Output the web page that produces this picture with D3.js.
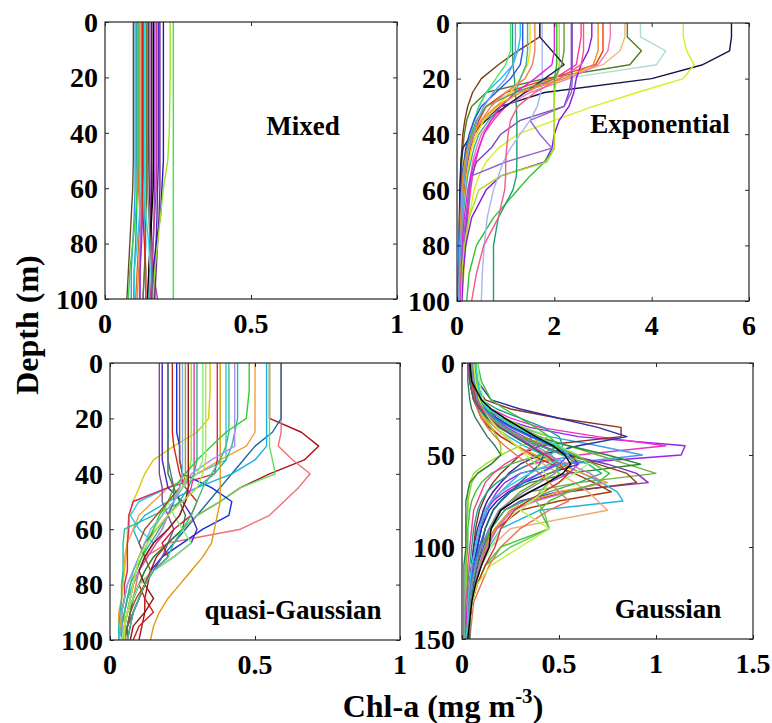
<!DOCTYPE html>
<html><head><meta charset="utf-8">
<script src="https://cdn.jsdelivr.net/npm/d3@7"></script>
<style>
body{margin:0;background:#fff;}
svg{display:block;}
text{font-family:"Liberation Serif","Times New Roman",serif;font-weight:bold;fill:#000;}
</style></head>
<body><svg id="chart" width="772" height="723"></svg>
<script>
// ---------- DATA ----------
const panelNames = ["Mixed", "Exponential", "quasi-Gaussian", "Gaussian"];
const xTicksMixed = [0, 0.5, 1];
const xTicksExp = [0, 2, 4, 6];
const xTicksQuasi = [0, 0.5, 1];
const xTicksGauss = [0, 0.5, 1, 1.5];
const yTicks100 = [0, 20, 40, 60, 80, 100];
const yTicks150 = [0, 50, 100, 150];

// Mixed
const depthMixed = [0, 20, 40, 50, 60, 70, 80, 90, 100];
const mixedProfiles = [
 [0.097,0.097,0.097,0.097,0.095,0.090,0.085,0.080,0.075],
 [0.103,0.103,0.103,0.103,0.103,0.100,0.095,0.090,0.090],
 [0.109,0.109,0.109,0.109,0.110,0.108,0.105,0.100,0.098],
 [0.114,0.114,0.114,0.114,0.115,0.120,0.115,0.110,0.105],
 [0.120,0.120,0.120,0.120,0.118,0.125,0.120,0.115,0.110],
 [0.126,0.126,0.126,0.126,0.126,0.124,0.122,0.120,0.118],
 [0.132,0.132,0.132,0.132,0.130,0.128,0.125,0.120,0.120],
 [0.137,0.137,0.137,0.137,0.137,0.135,0.140,0.135,0.130],
 [0.143,0.143,0.143,0.143,0.143,0.140,0.138,0.135,0.130],
 [0.149,0.149,0.149,0.150,0.152,0.155,0.160,0.165,0.170],
 [0.154,0.154,0.154,0.154,0.155,0.158,0.160,0.165,0.180],
 [0.160,0.160,0.160,0.160,0.160,0.158,0.155,0.150,0.150],
 [0.166,0.166,0.166,0.166,0.165,0.160,0.155,0.150,0.145],
 [0.171,0.171,0.171,0.171,0.170,0.168,0.165,0.160,0.160],
 [0.177,0.177,0.177,0.177,0.175,0.170,0.165,0.160,0.155],
 [0.183,0.183,0.183,0.183,0.180,0.178,0.175,0.170,0.165],
 [0.188,0.188,0.188,0.188,0.188,0.185,0.180,0.175,0.170],
 [0.200,0.200,0.200,0.200,0.195,0.190,0.175,0.165,0.160],
 [0.223,0.223,0.220,0.215,0.200,0.190,0.180,0.170,0.165],
 [0.234,0.234,0.234,0.234,0.234,0.234,0.234,0.234,0.234],
 [0.113,0.113,0.113,0.113,0.110,0.105,0.095,0.085,0.080],
 [0.118,0.118,0.118,0.118,0.120,0.118,0.110,0.100,0.100],
 [0.135,0.135,0.135,0.135,0.135,0.140,0.150,0.155,0.150],
 [0.146,0.146,0.146,0.146,0.146,0.150,0.155,0.160,0.162],
 [0.128,0.128,0.128,0.128,0.128,0.130,0.135,0.140,0.140]
];
const mixedColors = ["#6b4a2a","#2f9fd8","#18a0a0","#e07020","#f08a30","#c060e0","#8b2be2","#40b0b0","#707020","#303030",
 "#b040c0","#2a2a2a","#000000","#a040e0","#c04090","#5020c0","#603080","#3010c0","#a0e020","#30f030",
 "#40d040","#20d0f0","#20e0f0","#808080","#e02020"];

// Exponential
const depthExp = [0,5,10,15,20,25,30,35,40,45,50,55,60,70,80,90,100];
const expProfiles = [
 [5.64,5.64,5.60,5.05,4.00,1.80,0.90,0.55,0.35,0.25,0.18,0.14,0.12,0.09,0.07,0.06,0.05],
 [4.65,4.65,4.72,4.87,4.65,3.70,2.80,2.00,1.25,0.85,0.60,0.45,0.35,0.25,0.18,0.14,0.10],
 [3.77,3.77,4.29,4.10,2.20,1.10,0.60,0.40,0.30,0.22,0.18,0.15,0.12,0.10,0.08,0.06,0.05],
 [3.50,3.50,3.79,3.55,1.80,0.60,0.30,0.20,0.15,0.12,0.10,0.09,0.08,0.07,0.06,0.05,0.05],
 [3.45,3.45,3.35,3.00,2.10,1.30,0.85,0.55,0.40,0.30,0.22,0.18,0.15,0.12,0.10,0.08,0.07],
 [3.00,3.00,3.00,2.85,1.90,1.00,0.60,0.45,0.35,0.28,0.22,0.18,0.15,0.12,0.10,0.08,0.06],
 [3.15,3.15,3.10,2.90,2.30,1.50,1.00,0.70,0.50,0.40,0.32,0.28,0.25,0.20,0.15,0.12,0.10],
 [2.55,2.55,2.50,2.45,2.00,1.40,1.00,0.75,0.55,0.45,0.38,0.32,0.28,0.22,0.17,0.13,0.10],
 [2.77,2.77,2.70,2.55,2.45,2.40,2.30,2.10,2.00,1.95,1.80,0.90,0.60,0.30,0.18,0.12,0.10],
 [2.35,2.35,2.35,2.35,2.35,2.30,2.20,1.30,0.90,0.70,0.40,0.30,0.25,0.20,0.15,0.10,0.08],
 [2.37,2.37,2.37,2.37,2.37,2.35,2.20,1.50,1.70,1.95,1.00,0.30,0.25,0.18,0.12,0.10,0.08],
 [2.05,2.05,2.05,2.05,2.00,2.00,2.00,2.00,2.00,2.00,1.80,1.50,1.25,0.75,0.40,0.25,0.20],
 [2.10,2.10,2.10,2.10,2.05,2.00,2.00,2.00,2.00,2.00,1.85,0.90,0.45,0.25,0.15,0.10,0.08],
 [1.14,1.14,1.14,1.15,1.18,1.20,1.22,1.23,1.23,1.23,1.23,1.22,1.15,0.85,0.75,0.75,0.75],
 [1.75,1.75,1.75,1.75,1.75,1.72,1.65,1.50,1.30,1.10,0.95,0.85,0.75,0.62,0.56,0.52,0.50],
 [2.60,2.60,2.60,2.55,2.10,1.60,1.25,1.10,1.05,1.02,1.00,1.00,0.98,0.85,0.55,0.40,0.30],
 [1.70,1.70,1.25,0.85,0.50,0.32,0.22,0.16,0.12,0.10,0.08,0.07,0.06,0.05,0.04,0.03,0.03],
 [1.70,1.70,1.95,2.20,1.80,1.40,1.00,0.60,0.30,0.12,0.08,0.07,0.06,0.05,0.04,0.03,0.03],
 [1.30,1.30,1.25,1.15,0.90,0.60,0.45,0.35,0.28,0.22,0.18,0.14,0.10,0.06,0.04,0.03,0.02],
 [1.50,1.50,1.50,1.45,1.30,1.10,0.80,0.55,0.40,0.30,0.25,0.20,0.17,0.12,0.08,0.05,0.04],
 [1.10,1.10,1.10,1.00,0.80,0.60,0.45,0.35,0.28,0.22,0.18,0.15,0.12,0.10,0.08,0.06,0.05],
 [1.45,1.45,1.45,1.42,1.30,1.20,0.90,0.65,0.45,0.35,0.28,0.22,0.18,0.12,0.08,0.06,0.05],
 [2.00,2.00,2.00,1.95,1.60,1.20,0.90,0.70,0.55,0.45,0.35,0.28,0.22,0.15,0.10,0.08,0.06],
 [2.20,2.20,2.20,2.15,2.00,1.20,0.60,0.40,0.30,0.20,0.15,0.12,0.10,0.08,0.06,0.05,0.04],
 [1.60,1.60,1.60,1.55,1.40,1.00,0.70,0.50,0.35,0.25,0.20,0.15,0.12,0.10,0.08,0.06,0.05],
 [1.35,1.35,1.35,1.30,1.10,0.80,0.50,0.35,0.25,0.18,0.14,0.10,0.08,0.06,0.05,0.04,0.03],
 [2.90,2.90,2.90,2.80,2.20,1.30,0.80,0.50,0.32,0.22,0.16,0.12,0.10,0.08,0.06,0.05,0.04],
 [1.20,1.20,1.20,1.15,1.00,0.75,0.55,0.42,0.32,0.25,0.20,0.16,0.13,0.10,0.07,0.05,0.03]
];
const expColors = ["#14144a","#d8ee20","#b0ddd0","#4f7f22","#f0b878","#e8400c","#f07ab0","#ff3c9c","#8a14e8","#7a40c8",
 "#9060d0","#30c030","#a8e020","#20a070","#a8b4f4","#f25a8a","#7a3c0c","#20205a","#20c0f0","#f0e000",
 "#50e070","#40b0a0","#e020e0","#6a9a40","#f08060","#3050e0","#f09020","#60a0f0"];

// quasi-Gaussian
const depthQuasi = [0,10,20,25,30,35,40,45,50,55,60,65,70,75,80,85,90,95,100];
const quasiProfiles = [
 [0.55,0.55,0.55,0.66,0.72,0.67,0.55,0.45,0.38,0.30,0.25,0.20,0.16,0.14,0.13,0.12,0.12,0.11,0.10],
 [0.59,0.59,0.59,0.59,0.58,0.63,0.69,0.65,0.60,0.55,0.45,0.20,0.12,0.10,0.09,0.08,0.07,0.06,0.05],
 [0.59,0.59,0.59,0.56,0.50,0.46,0.42,0.38,0.34,0.30,0.26,0.22,0.18,0.15,0.12,0.10,0.08,0.06,0.05],
 [0.54,0.54,0.54,0.54,0.54,0.50,0.42,0.30,0.20,0.12,0.08,0.10,0.12,0.10,0.08,0.06,0.05,0.04,0.03],
 [0.40,0.40,0.40,0.40,0.40,0.40,0.30,0.20,0.10,0.07,0.10,0.15,0.12,0.10,0.08,0.06,0.05,0.04,0.04],
 [0.55,0.55,0.55,0.55,0.55,0.56,0.57,0.45,0.38,0.30,0.25,0.20,0.15,0.12,0.10,0.08,0.07,0.06,0.05],
 [0.50,0.50,0.50,0.50,0.47,0.38,0.30,0.20,0.15,0.10,0.08,0.06,0.05,0.05,0.04,0.04,0.03,0.03,0.03],
 [0.345,0.345,0.34,0.30,0.22,0.15,0.12,0.10,0.08,0.065,0.06,0.06,0.055,0.05,0.045,0.04,0.04,0.035,0.03],
 [0.23,0.23,0.23,0.23,0.24,0.24,0.25,0.35,0.42,0.41,0.32,0.25,0.18,0.14,0.12,0.10,0.08,0.07,0.06],
 [0.37,0.37,0.37,0.37,0.37,0.37,0.36,0.20,0.08,0.065,0.065,0.06,0.06,0.06,0.05,0.05,0.04,0.04,0.04],
 [0.44,0.44,0.44,0.43,0.42,0.40,0.36,0.30,0.25,0.15,0.05,0.045,0.045,0.045,0.04,0.04,0.035,0.03,0.03],
 [0.38,0.38,0.38,0.38,0.38,0.38,0.38,0.38,0.38,0.37,0.36,0.35,0.32,0.28,0.24,0.20,0.17,0.15,0.14],
 [0.17,0.17,0.17,0.17,0.17,0.17,0.17,0.18,0.18,0.20,0.22,0.20,0.18,0.15,0.12,0.10,0.08,0.06,0.05],
 [0.18,0.18,0.18,0.18,0.18,0.18,0.19,0.20,0.25,0.28,0.30,0.28,0.22,0.15,0.10,0.08,0.06,0.05,0.05],
 [0.20,0.20,0.20,0.20,0.20,0.20,0.20,0.22,0.24,0.26,0.25,0.20,0.15,0.12,0.10,0.08,0.07,0.06,0.05],
 [0.215,0.215,0.215,0.215,0.22,0.23,0.24,0.26,0.30,0.28,0.22,0.18,0.20,0.15,0.10,0.12,0.15,0.10,0.08],
 [0.26,0.26,0.26,0.26,0.26,0.26,0.26,0.25,0.22,0.20,0.18,0.15,0.12,0.10,0.08,0.07,0.06,0.05,0.05],
 [0.28,0.28,0.28,0.28,0.28,0.28,0.27,0.25,0.20,0.18,0.15,0.12,0.10,0.08,0.07,0.06,0.05,0.05,0.04],
 [0.29,0.29,0.29,0.29,0.29,0.29,0.29,0.28,0.26,0.24,0.20,0.16,0.13,0.10,0.08,0.07,0.06,0.05,0.05],
 [0.30,0.30,0.30,0.30,0.30,0.30,0.29,0.27,0.24,0.20,0.17,0.14,0.11,0.09,0.07,0.06,0.05,0.04,0.04],
 [0.43,0.43,0.43,0.43,0.43,0.35,0.28,0.25,0.22,0.20,0.18,0.15,0.12,0.10,0.08,0.07,0.06,0.05,0.05],
 [0.48,0.48,0.47,0.40,0.35,0.30,0.26,0.22,0.20,0.17,0.15,0.13,0.11,0.09,0.08,0.07,0.06,0.05,0.05],
 [0.32,0.32,0.32,0.32,0.32,0.32,0.30,0.25,0.20,0.22,0.25,0.28,0.22,0.15,0.10,0.08,0.06,0.05,0.04],
 [0.24,0.24,0.24,0.24,0.24,0.24,0.25,0.24,0.20,0.16,0.12,0.10,0.12,0.14,0.12,0.09,0.07,0.06,0.06],
 [0.27,0.27,0.27,0.27,0.27,0.27,0.27,0.27,0.26,0.24,0.20,0.15,0.12,0.10,0.12,0.15,0.12,0.08,0.07],
 [0.20,0.20,0.20,0.20,0.20,0.20,0.21,0.22,0.22,0.20,0.16,0.12,0.10,0.08,0.06,0.05,0.04,0.04,0.03],
 [0.41,0.41,0.41,0.41,0.40,0.38,0.35,0.32,0.30,0.28,0.25,0.22,0.20,0.15,0.12,0.10,0.08,0.07,0.06],
 [0.25,0.25,0.25,0.25,0.25,0.25,0.25,0.24,0.22,0.18,0.14,0.12,0.10,0.08,0.06,0.05,0.04,0.04,0.03],
 [0.33,0.33,0.33,0.33,0.33,0.33,0.32,0.30,0.25,0.20,0.16,0.13,0.10,0.09,0.08,0.07,0.06,0.05,0.05]
];
const quasiColors = ["#b01010","#f07070","#1a6aa8","#18b0e0","#30c8e8","#60e060","#f0a040","#e0c800","#1030e0","#e0205a",
 "#20c0a0","#e09a10","#7a4aa0","#5020c0","#208040","#d02020","#a0a030","#90e030","#e040a0","#30b090",
 "#b090f0","#30d030","#80f080","#a05020","#901818","#607080","#40c080","#80b0f0","#c0e040"];

// Gaussian
const depthGauss = [0,10,20,25,30,35,40,45,50,55,60,65,70,75,80,90,100,110,120,130,140,150];
const gaussProfiles = [
 [0.05,0.05,0.08,0.12,0.20,0.35,0.60,1.15,1.13,0.50,0.30,0.22,0.18,0.15,0.12,0.10,0.08,0.06,0.05,0.04,0.03,0.03],
 [0.04,0.05,0.09,0.15,0.25,0.40,0.70,1.05,0.60,0.35,0.25,0.20,0.16,0.13,0.11,0.09,0.07,0.05,0.04,0.03,0.03,0.02],
 [0.06,0.07,0.10,0.15,0.22,0.30,0.45,0.70,0.93,0.50,0.30,0.25,0.20,0.16,0.13,0.10,0.08,0.06,0.05,0.04,0.03,0.03],
 [0.05,0.06,0.12,0.25,0.50,0.82,0.82,0.40,0.30,0.25,0.20,0.16,0.13,0.11,0.09,0.07,0.06,0.05,0.04,0.03,0.03,0.02],
 [0.06,0.08,0.15,0.30,0.50,0.70,0.85,0.60,0.40,0.30,0.24,0.20,0.16,0.13,0.11,0.08,0.06,0.05,0.04,0.03,0.03,0.02],
 [0.07,0.08,0.10,0.14,0.20,0.30,0.40,0.55,0.70,0.85,1.00,0.60,0.35,0.25,0.20,0.15,0.12,0.10,0.07,0.05,0.04,0.03],
 [0.05,0.06,0.08,0.10,0.14,0.20,0.28,0.40,0.55,0.75,0.90,0.96,0.50,0.30,0.22,0.15,0.11,0.08,0.06,0.05,0.04,0.03],
 [0.06,0.07,0.09,0.12,0.18,0.26,0.38,0.55,0.75,0.92,0.55,0.35,0.25,0.20,0.16,0.12,0.09,0.07,0.05,0.04,0.03,0.03],
 [0.04,0.05,0.07,0.10,0.14,0.20,0.30,0.40,0.55,0.70,0.85,0.90,0.55,0.35,0.25,0.17,0.12,0.09,0.07,0.05,0.04,0.03],
 [0.05,0.05,0.07,0.09,0.12,0.17,0.24,0.32,0.42,0.52,0.62,0.72,0.80,0.83,0.40,0.20,0.14,0.10,0.07,0.05,0.04,0.03],
 [0.03,0.04,0.06,0.08,0.11,0.15,0.20,0.28,0.38,0.50,0.62,0.75,0.50,0.35,0.25,0.17,0.12,0.09,0.07,0.05,0.04,0.03],
 [0.04,0.04,0.06,0.08,0.10,0.14,0.20,0.28,0.36,0.46,0.58,0.68,0.77,0.50,0.30,0.18,0.13,0.10,0.07,0.05,0.04,0.03],
 [0.06,0.07,0.10,0.15,0.22,0.32,0.45,0.30,0.20,0.12,0.06,0.04,0.03,0.03,0.03,0.02,0.02,0.02,0.02,0.02,0.02,0.02],
 [0.08,0.10,0.15,0.22,0.30,0.38,0.45,0.50,0.40,0.25,0.15,0.10,0.07,0.05,0.04,0.03,0.03,0.02,0.02,0.02,0.02,0.02],
 [0.05,0.06,0.08,0.10,0.12,0.15,0.18,0.20,0.20,0.15,0.08,0.05,0.04,0.03,0.03,0.02,0.02,0.02,0.02,0.02,0.02,0.02],
 [0.05,0.06,0.10,0.18,0.30,0.42,0.50,0.52,0.45,0.35,0.25,0.18,0.13,0.10,0.08,0.06,0.05,0.04,0.03,0.03,0.02,0.02],
 [0.03,0.04,0.06,0.10,0.16,0.25,0.35,0.37,0.30,0.22,0.16,0.12,0.10,0.08,0.06,0.05,0.04,0.03,0.03,0.02,0.02,0.02],
 [0.04,0.05,0.08,0.12,0.18,0.26,0.36,0.46,0.56,0.60,0.45,0.32,0.24,0.18,0.14,0.10,0.08,0.06,0.05,0.04,0.03,0.03],
 [0.05,0.06,0.08,0.10,0.13,0.17,0.22,0.28,0.35,0.42,0.50,0.58,0.65,0.70,0.75,0.25,0.15,0.10,0.07,0.05,0.04,0.03],
 [0.07,0.08,0.10,0.13,0.17,0.22,0.28,0.35,0.42,0.48,0.50,0.45,0.40,0.38,0.42,0.45,0.25,0.12,0.08,0.05,0.04,0.03],
 [0.05,0.06,0.08,0.11,0.16,0.23,0.32,0.42,0.52,0.60,0.55,0.45,0.35,0.27,0.20,0.14,0.10,0.07,0.05,0.04,0.03,0.03],
 [0.03,0.04,0.06,0.09,0.14,0.20,0.28,0.36,0.44,0.48,0.40,0.30,0.22,0.16,0.12,0.09,0.07,0.05,0.04,0.03,0.02,0.02],
 [0.06,0.07,0.09,0.12,0.16,0.22,0.30,0.40,0.52,0.65,0.72,0.60,0.45,0.32,0.22,0.15,0.10,0.07,0.05,0.04,0.03,0.03],
 [0.05,0.06,0.08,0.11,0.15,0.21,0.30,0.45,0.60,0.55,0.45,0.38,0.30,0.25,0.20,0.15,0.12,0.09,0.07,0.05,0.04,0.03],
 [0.08,0.09,0.11,0.15,0.20,0.28,0.38,0.50,0.60,0.65,0.58,0.50,0.42,0.35,0.28,0.20,0.15,0.10,0.07,0.05,0.04,0.03],
 [0.04,0.05,0.06,0.08,0.10,0.13,0.17,0.22,0.28,0.34,0.40,0.45,0.50,0.55,0.45,0.30,0.20,0.14,0.10,0.06,0.05,0.04],
 [0.05,0.05,0.07,0.10,0.14,0.20,0.27,0.35,0.44,0.55,0.66,0.72,0.55,0.38,0.26,0.18,0.13,0.09,0.07,0.05,0.04,0.03],
 [0.06,0.07,0.10,0.14,0.20,0.28,0.38,0.48,0.58,0.68,0.76,0.70,0.55,0.45,0.40,0.45,0.20,0.12,0.08,0.05,0.04,0.03],
 [0.04,0.05,0.07,0.10,0.14,0.20,0.27,0.35,0.43,0.50,0.55,0.50,0.42,0.34,0.27,0.20,0.17,0.12,0.08,0.05,0.04,0.03],
 [0.05,0.06,0.08,0.12,0.17,0.25,0.35,0.46,0.55,0.50,0.40,0.32,0.25,0.20,0.16,0.12,0.09,0.06,0.05,0.04,0.03,0.03],
 [0.04,0.04,0.06,0.09,0.13,0.19,0.27,0.35,0.42,0.40,0.35,0.30,0.25,0.20,0.16,0.12,0.10,0.08,0.06,0.05,0.04,0.04],
 [0.06,0.07,0.09,0.11,0.14,0.18,0.23,0.28,0.33,0.38,0.43,0.45,0.42,0.36,0.30,0.45,0.30,0.15,0.08,0.05,0.04,0.03],
 [0.05,0.06,0.08,0.11,0.15,0.21,0.29,0.38,0.46,0.50,0.48,0.40,0.32,0.25,0.19,0.14,0.10,0.07,0.05,0.04,0.03,0.03],
 [0.07,0.08,0.10,0.14,0.20,0.28,0.38,0.50,0.55,0.45,0.35,0.27,0.20,0.15,0.12,0.09,0.07,0.05,0.04,0.03,0.03,0.02],
 [0.03,0.03,0.04,0.05,0.07,0.10,0.13,0.17,0.20,0.15,0.08,0.04,0.03,0.02,0.02,0.02,0.02,0.01,0.01,0.01,0.01,0.01],
 [0.04,0.05,0.10,0.15,0.22,0.30,0.38,0.47,0.53,0.56,0.52,0.44,0.35,0.27,0.20,0.15,0.14,0.10,0.07,0.05,0.04,0.03]
];
const gaussColors = ["#9a20f0","#f030c0","#40a0f0","#8a3020","#3030a0","#70b040","#8030c0","#208a30","#904020","#20b0e0",
 "#f0a020","#a04010","#a0e020","#40c040","#90d020","#20a090","#f04090","#2020c0","#f0a870","#60d060",
 "#a040e0","#e020e0","#30b070","#80a020","#a0f090","#f07050","#d070d0","#50c030","#d03030","#3070f0",
 "#207070","#c0f040","#8090a0","#30d0d0","#308050","#000000"];

// ---------- LAYOUT ----------
const panels = [
 {name: panelNames[0], x0:105, x1:397, y0:22, y1:299, xMax:1, yMax:100, xTicks:xTicksMixed, yTicks:yTicks100,
  depth:depthMixed, profiles:mixedProfiles, colors:mixedColors, lx:303, ly:135},
 {name: panelNames[1], x0:457, x1:749, y0:23, y1:301, xMax:6, yMax:100, xTicks:xTicksExp, yTicks:yTicks100,
  depth:depthExp, profiles:expProfiles, colors:expColors, lx:660, ly:133},
 {name: panelNames[2], x0:110, x1:400, y0:363, y1:640, xMax:1, yMax:100, xTicks:xTicksQuasi, yTicks:yTicks100,
  depth:depthQuasi, profiles:quasiProfiles, colors:quasiColors, lx:293, ly:619},
 {name: panelNames[3], x0:462, x1:753, y0:363, y1:639, xMax:1.5, yMax:150, xTicks:xTicksGauss, yTicks:yTicks150,
  depth:depthGauss, profiles:gaussProfiles, colors:gaussColors, lx:668, ly:618}
];

const svg = d3.select("#chart");
svg.append("rect").attr("width",772).attr("height",723).attr("fill","#fff");
const fmt = d3.format("~g");

panels.forEach((p, pi) => {
  const x = d3.scaleLinear().domain([0, p.xMax]).range([p.x0, p.x1]);
  const y = d3.scaleLinear().domain([0, p.yMax]).range([p.y0, p.y1]);
  const g = svg.append("g");
  const clipId = "clip" + pi;
  svg.append("clipPath").attr("id", clipId).append("rect")
    .attr("x", p.x0).attr("y", p.y0).attr("width", p.x1 - p.x0).attr("height", p.y1 - p.y0);

  const line = d3.line().x(d => x(d[0])).y(d => y(d[1]));
  const lg = g.append("g").attr("clip-path", `url(#${clipId})`);
  p.profiles.forEach((vals, i) => {
    lg.append("path")
      .attr("d", line(vals.map((v, k) => [v, p.depth[k]])))
      .attr("fill", "none")
      .attr("stroke", p.colors[i % p.colors.length])
      .attr("stroke-width", 1.4)
      .attr("stroke-linejoin", "round");
  });

  const tl = 4;
  const axB = d3.axisBottom(x).tickValues(p.xTicks).tickSize(-tl).tickFormat("");
  const axT = d3.axisTop(x).tickValues(p.xTicks).tickSize(-tl).tickFormat("");
  const axL = d3.axisLeft(y).tickValues(p.yTicks).tickSize(-tl).tickFormat("");
  const axR = d3.axisRight(y).tickValues(p.yTicks).tickSize(-tl).tickFormat("");
  [[axB, `translate(0,${p.y1})`], [axT, `translate(0,${p.y0})`], [axL, `translate(${p.x0},0)`], [axR, `translate(${p.x1},0)`]]
    .forEach(([ax, tr]) => {
      const a = g.append("g").attr("transform", tr).call(ax);
      a.selectAll("line").attr("stroke", "#262626").attr("stroke-width", 1);
      a.select(".domain").remove();
    });
  g.append("rect").attr("x", p.x0).attr("y", p.y0).attr("width", p.x1 - p.x0).attr("height", p.y1 - p.y0)
    .attr("fill", "none").attr("stroke", "#262626").attr("stroke-width", 1.2);

  g.selectAll(null).data(p.xTicks).enter().append("text")
    .attr("x", d => x(d)).attr("y", p.y1 + 34).attr("text-anchor", "middle")
    .attr("font-size", 28).text(d => fmt(d));
  g.selectAll(null).data(p.yTicks).enter().append("text")
    .attr("x", p.x0 - 7).attr("y", d => y(d)).attr("dy", "0.35em").attr("text-anchor", "end")
    .attr("font-size", 28).text(d => fmt(d));

  g.append("text").attr("x", p.lx).attr("y", p.ly).attr("text-anchor", "middle")
    .attr("font-size", 27).text(p.name);
});

svg.append("text").attr("transform", "translate(38,325) rotate(-90)").attr("text-anchor", "middle")
  .attr("font-size", 32).text("Depth (m)");
const xl = svg.append("text").attr("x", 443).attr("y", 717).attr("text-anchor", "middle").attr("font-size", 32);
xl.append("tspan").text("Chl-a (mg m");
xl.append("tspan").attr("dy", -14).attr("font-size", 21).text("-3");
xl.append("tspan").attr("dy", 14).text(")");
</script></body></html>
